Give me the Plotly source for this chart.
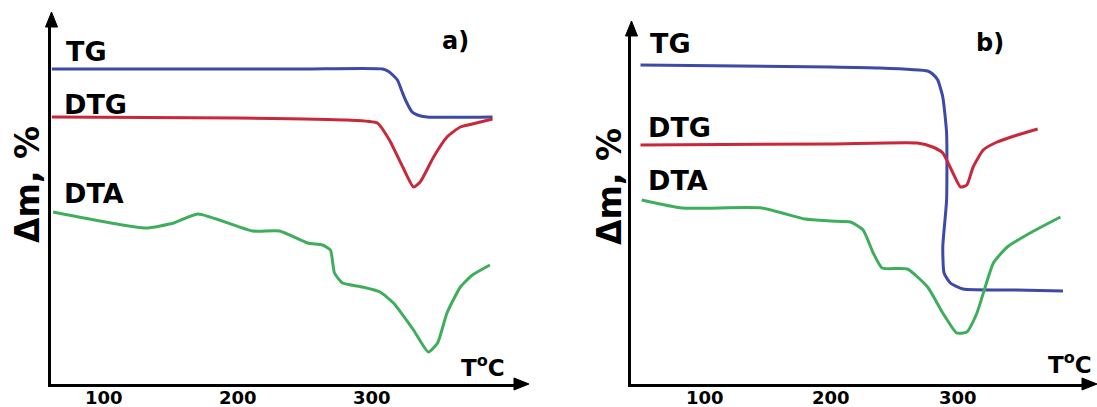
import plotly.graph_objects as go

# ---------------- data (temperature in °C, signal in arbitrary units) ----------------
# Panel a)
a_tg_t = [61, 150, 250, 308, 313, 319, 322, 325, 330, 334, 341, 390]
a_tg_v = [315, 315, 315, 315, 312, 304, 294, 284, 272, 269, 267, 267]

a_dtg_t = [61, 200, 281, 304, 313, 323, 331, 336, 346, 356, 366, 381, 390]
a_dtg_v = [267, 266, 264, 261, 244, 217, 197, 202, 227, 247, 257, 262, 265]

a_dta_t = [62, 131, 152, 170, 211, 231, 252, 263, 269, 272, 278, 293, 306, 316, 331, 342, 349, 356, 366, 375, 388]
a_dta_v = [172, 156, 161, 170, 153, 153, 141, 139, 134, 111, 101, 97, 92, 81, 54, 32, 41, 71, 97, 109, 119]

# Panel b)
b_tg_t = [49, 199, 238, 276, 280, 284, 288, 291, 291, 288, 289, 294, 304, 344, 383]
b_tg_v = [319, 317, 316, 313, 310, 304, 287, 251, 184, 137, 111, 101, 95, 94, 93]

b_dtg_t = [49, 199, 268, 280, 288, 296, 302, 307, 312, 320, 331, 347, 363]
b_dtg_v = [239, 240, 241, 237, 231, 211, 197, 199, 217, 234, 242, 249, 255]

b_dta_t = [50, 82, 145, 179, 199, 215, 225, 233, 240, 260, 276, 288, 299, 307, 315, 328, 339, 357, 381]
b_dta_v = [184, 176, 176, 165, 163, 162, 154, 131, 116, 115, 97, 71, 51, 52, 71, 121, 137, 151, 167]

tick_vals = [100, 200, 300]
tick_text = ["100", "200", "300"]
curve_names = ["TG", "DTG", "DTA"]

BLUE = "#3d4aa6"
RED = "#c8283a"
GREEN = "#3fae5c"
FONT = "DejaVu Sans"
W, H = 1097, 407

fig = go.Figure()

def add(t, v, color, xa, ya):
    fig.add_trace(go.Scatter(x=t, y=v, mode="lines", xaxis=xa, yaxis=ya,
                             line=dict(color=color, width=3, shape="spline", smoothing=0.5),
                             showlegend=False, hoverinfo="skip"))

add(a_tg_t, a_tg_v, BLUE, "x", "y")
add(a_dtg_t, a_dtg_v, RED, "x", "y")
add(a_dta_t, a_dta_v, GREEN, "x", "y")
add(b_tg_t, b_tg_v, BLUE, "x2", "y2")
add(b_dtg_t, b_dtg_v, RED, "x2", "y2")
add(b_dta_t, b_dta_v, GREEN, "x2", "y2")

def px_x(p):
    return p / W

def px_y(p):
    return 1 - p / H

axis_common = dict(showgrid=False, zeroline=False, showline=True, linecolor="black",
                   linewidth=3, ticks="", fixedrange=True)

fig.update_layout(
    width=W, height=H,
    margin=dict(l=0, r=0, t=0, b=0),
    paper_bgcolor="white", plot_bgcolor="white",
    xaxis=dict(domain=[px_x(51), px_x(520)], range=[60.4, 410.5], anchor="y",
               tickvals=tick_vals, showticklabels=False, **axis_common),
    yaxis=dict(domain=[px_y(384), px_y(22)], range=[0, 362], anchor="x",
               showticklabels=False, **axis_common),
    xaxis2=dict(domain=[px_x(631), px_x(1088)], range=[41.5, 402.8], anchor="y2",
                tickvals=tick_vals, showticklabels=False, **axis_common),
    yaxis2=dict(domain=[px_y(384), px_y(31)], range=[0, 353], anchor="x2",
                showticklabels=False, **axis_common),
)

shapes = []

def head(tx, ty, direction):
    L, hw = 15, 6
    if direction == "up":
        pts = [(tx, ty), (tx - hw, ty + L), (tx + hw, ty + L)]
    else:
        pts = [(tx, ty), (tx - L, ty - hw), (tx - L, ty + hw)]
    path = "M " + " L ".join("%.5f,%.5f" % (px_x(a), px_y(b)) for a, b in pts) + " Z"
    shapes.append(dict(type="path", path=path, xref="paper", yref="paper",
                       fillcolor="black", line=dict(color="black", width=1)))

# axis arrow heads
head(51.5, 12, "up")
head(529, 384, "right")
head(631.5, 21, "up")
head(1097, 384, "right")

ann = []

def text(px, py, s, size, xanchor="center", textangle=0):
    ann.append(dict(x=px_x(px), y=px_y(py), xref="paper", yref="paper", text=s,
                    showarrow=False, xanchor=xanchor, yanchor="middle", textangle=textangle,
                    font=dict(family=FONT, size=size, color="black")))

# tick labels placed through the x scales
for xr in ("x", "x2"):
    for v, s in zip(tick_vals, tick_text):
        ann.append(dict(x=v, y=px_y(397), xref=xr, yref="paper", text="<b>%s</b>" % s,
                        showarrow=False, xanchor="center", yanchor="middle",
                        font=dict(family=FONT, size=18, color="black")))

# curve labels
for (px, py), name in zip([(64, 52), (62, 104), (62, 193)], curve_names):
    text(px, py, "<b>%s</b>" % name, 27, xanchor="left")
for (px, py), name in zip([(648, 43), (646, 128), (646, 181)], curve_names):
    text(px, py, "<b>%s</b>" % name, 27, xanchor="left")

# panel letters
text(455, 41, "<b>a)</b>", 24)
text(990, 43, "<b>b)</b>", 24)

# temperature labels
ann.append(dict(x=px_x(507), y=px_y(366), xref="paper", yref="paper",
                text="<b>T<sup>o</sup>C</b>", showarrow=False, xanchor="right", yanchor="middle",
                font=dict(family=FONT, size=23, color="black")))
ann.append(dict(x=px_x(1094), y=px_y(363), xref="paper", yref="paper",
                text="<b>T<sup>o</sup>C</b>", showarrow=False, xanchor="right", yanchor="middle",
                font=dict(family=FONT, size=23, color="black")))

# y-axis titles
text(27, 185, "<b>Δm, %</b>", 33, textangle=-90)
text(609, 187, "<b>Δm, %</b>", 33, textangle=-90)

fig.update_layout(annotations=ann, shapes=shapes)

fig.write_html("out.html", config={"displayModeBar": False},
               post_script="document.body.style.margin='0px';")
